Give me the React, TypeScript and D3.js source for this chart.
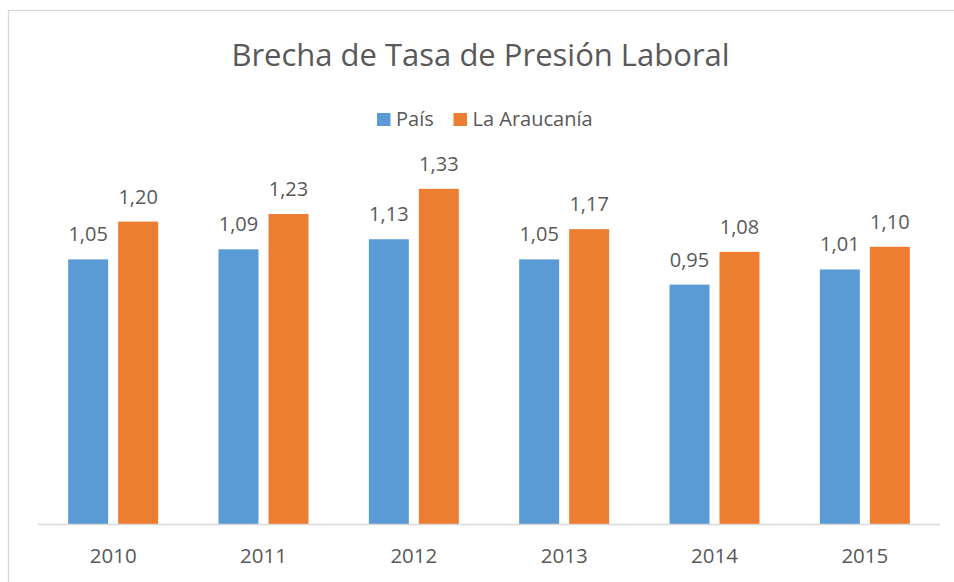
import React from "react";
import * as d3 from "d3";

const title = "Brecha de Tasa de Presión Laboral";
const years = ["2010", "2011", "2012", "2013", "2014", "2015"];
const seriesNames = ["País", "La Araucanía"];
const paisValues = [1.05, 1.09, 1.13, 1.05, 0.95, 1.01];
const araucaniaValues = [1.2, 1.23, 1.33, 1.17, 1.08, 1.1];
const seriesColors = ["#5B9BD5", "#ED7D31"];

const W = 954;
const H = 582;
const FONT = "'Open Sans', 'DejaVu Sans', sans-serif";
const TEXT = "#595959";

export default function App() {
  const seriesValues = [paisValues, araucaniaValues];
  const x0 = d3.scaleBand<string>().domain(years).range([38, 940]).paddingInner(0).paddingOuter(0);
  const bw = x0.bandwidth();
  const x1 = d3
    .scaleBand<string>()
    .domain(seriesNames)
    .range([bw / 2 - 45, bw / 2 + 45])
    .paddingInner(0.2)
    .paddingOuter(0);
  const y = d3.scaleLinear().domain([0, 1.4]).range([524, 524 - 1.4 * 252]);
  const fmt = (v: number) => d3.format(".2f")(v).replace(".", ",");

  // legend layout
  const legendItems = [
    { name: seriesNames[0], color: seriesColors[0], x: 377 },
    { name: seriesNames[1], color: seriesColors[1], x: 453.5 },
  ];

  return (
    <svg
      width={W}
      height={H}
      style={{ position: "absolute", left: 0, top: 0, background: "#fff" }}
      fontFamily={FONT}
    >
      <rect x={0} y={0} width={W} height={H} fill="#ffffff" />
      <rect x={8.5} y={10.5} width={W + 20} height={H + 20} fill="none" stroke="#d9d9d9" strokeWidth={1.3} />
      <text x={480.5} y={65.5} textAnchor="middle" fontSize={31} fill={TEXT}>
        {title}
      </text>
      {legendItems.map((d) => (
        <g key={d.name}>
          <rect x={d.x} y={113} width={13.5} height={13} fill={d.color} />
          <text x={d.x + 19} y={126} fontSize={20} fill={TEXT}>
            {d.name}
          </text>
        </g>
      ))}
      {years.map((yr, i) => (
        <g key={yr} transform={`translate(${x0(yr)},0)`}>
          {seriesNames.map((s, j) => {
            const v = seriesValues[j][i];
            const bx = x1(s) as number;
            return (
              <g key={s}>
                <rect x={bx} y={y(v)} width={x1.bandwidth()} height={y(0) - y(v)} fill={seriesColors[j]} />
                <text
                  x={bx + x1.bandwidth() / 2}
                  y={y(v) - 18}
                  textAnchor="middle"
                  fontSize={20}
                  fill={TEXT}
                >
                  {fmt(v)}
                </text>
              </g>
            );
          })}
          <text x={bw / 2} y={562.5} textAnchor="middle" fontSize={20.5} fill={TEXT}>
            {yr}
          </text>
        </g>
      ))}
      <line x1={38} x2={940} y1={524.5} y2={524.5} stroke="#d9d9d9" strokeWidth={1.3} />
    </svg>
  );
}
